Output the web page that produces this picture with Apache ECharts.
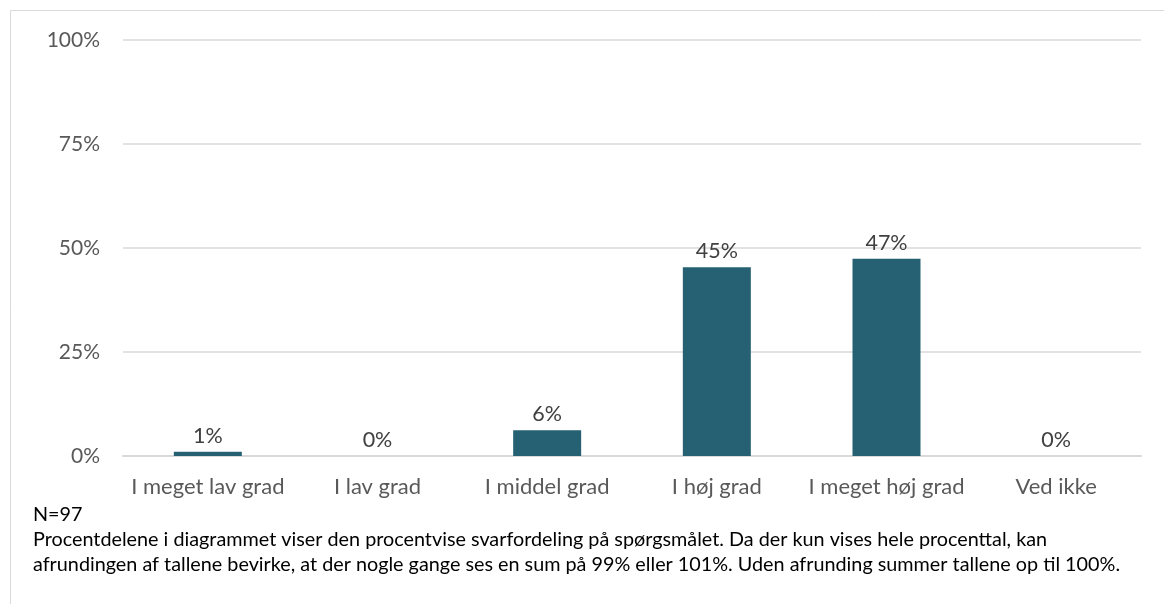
<!DOCTYPE html>
<html>
<head>
<meta charset="utf-8">
<script src="https://cdn.jsdelivr.net/npm/echarts@6/dist/echarts.min.js"></script>
<style>
  html, body { margin: 0; padding: 0; background: #fff; }
  #chart { width: 1164px; height: 604px; }
</style>
</head>
<body>
<div id="chart"></div>
<script>
const categories = ['I meget lav grad', 'I lav grad', 'I middel grad', 'I høj grad', 'I meget høj grad', 'Ved ikke'];
// andel i procent (N=97)
const shares = [1.03, 0, 6.19, 45.36, 47.42, 0];
const yTicks = [0, 25, 50, 75, 100];
const noteLines = [
    'N=97',
    'Procentdelene i diagrammet viser den procentvise svarfordeling på spørgsmålet. Da der kun vises hele procenttal, kan',
    'afrundingen af tallene bevirke, at der nogle gange ses en sum på 99% eller 101%. Uden afrunding summer tallene op til 100%.'
];

const font = 'Lato, "Open Sans", sans-serif';
const chart = echarts.init(document.getElementById('chart'));

chart.setOption({
    animation: false,
    grid: { left: 123, right: 23, top: 40, bottom: 148 },
    xAxis: {
        type: 'category',
        data: categories,
        axisLine: { lineStyle: { color: '#d9d9d9', width: 2 } },
        axisTick: { show: false },
        axisLabel: { interval: 0, color: '#595959', fontSize: 22, fontFamily: font, margin: 20 }
    },
    yAxis: {
        type: 'value',
        min: yTicks[0],
        max: yTicks[yTicks.length - 1],
        interval: 25,
        axisLine: { show: false },
        axisTick: { show: false },
        splitLine: { lineStyle: { color: '#d9d9d9', width: 1.5 } },
        axisLabel: { color: '#595959', fontSize: 21, fontFamily: font, margin: 23, formatter: v => v + '%' }
    },
    series: [{
        type: 'bar',
        data: shares,
        barWidth: 68,
        itemStyle: { color: '#256172' },
        label: {
            show: true,
            position: 'top',
            distance: 5,
            color: '#404040',
            fontSize: 21.5,
            fontFamily: font,
            formatter: p => Math.round(p.value) + '%'
        }
    }],
    graphic: [
        {
            type: 'rect',
            shape: { x: 10.5, y: 10.5, width: 1170, height: 620 },
            style: { fill: 'none', stroke: '#d9d9d9', lineWidth: 1 },
            silent: true
        },
        ...noteLines.map((t, i) => ({
            type: 'text',
            left: 33,
            top: 505 + i * 25,
            style: { text: t, fill: '#000', fontSize: 19.8, fontFamily: font }
        }))
    ]
});
</script>
</body>
</html>
